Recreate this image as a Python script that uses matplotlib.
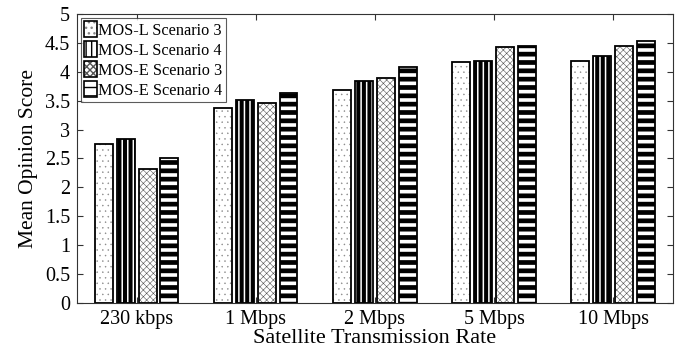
import numpy as np
import matplotlib
matplotlib.use("Agg")
import matplotlib.pyplot as plt

rates = ["230 kbps", "1 Mbps", "2 Mbps", "5 Mbps", "10 Mbps"]
series = ["MOS-L Scenario 3", "MOS-L Scenario 4", "MOS-E Scenario 3", "MOS-E Scenario 4"]
mos_l3 = [2.75, 3.37, 3.69, 4.17, 4.19]
mos_l4 = [2.84, 3.51, 3.84, 4.19, 4.27]
mos_e3 = [2.32, 3.46, 3.89, 4.43, 4.45]
mos_e4 = [2.51, 3.63, 4.09, 4.45, 4.53]

plt.rcParams["font.family"] = ["Liberation Serif", "DejaVu Serif"]

fig = plt.figure(figsize=(6.76, 3.58), dpi=100)
ax = fig.add_axes([0.114, 0.154, 0.881, 0.807])

x = np.arange(1, len(rates) + 1)
w = 0.15
offs = [-0.275, -0.092, 0.092, 0.275]
# hatch pattern, hatch colour, hatch line width per series
hatches = ["...", "|||", "xxxxx", "--"]
hcols = ["#888888", "black", "#555555", "black"]
hlw = [0.3, 2.9, 0.4, 3.4]


def set_hlw(p, lw):
    if hasattr(p, "set_hatch_linewidth"):
        p.set_hatch_linewidth(lw)


handles = []
for vals, off, h, hc, lw in zip([mos_l3, mos_l4, mos_e3, mos_e4], offs, hatches, hcols, hlw):
    # hatch layer (edge colour = hatch colour), then a black outline on top
    bars = ax.bar(x + off, vals, w, facecolor="white", edgecolor=hc,
                  linewidth=0, hatch=h)
    for b in bars:
        set_hlw(b, lw)
    ax.bar(x + off, vals, w, facecolor="none", edgecolor="black", linewidth=1.3)
    hp = matplotlib.patches.Patch(facecolor="white", edgecolor=hc, hatch=h, linewidth=0)
    set_hlw(hp, lw)
    ho = matplotlib.patches.Patch(facecolor="none", edgecolor="black", linewidth=1.2)
    handles.append((hp, ho))

ax.set_xlim(0.5, 5.5)
ax.set_ylim(0, 5)
ax.set_yticks(np.arange(0, 5.01, 0.5))
ax.set_yticklabels(["0", "0.5", "1", "1.5", "2", "2.5", "3", "3.5", "4", "4.5", "5"])
ax.set_xticks(x)
ax.set_xticklabels(rates)
ax.tick_params(direction="in", top=True, right=True, labelsize=14.5, length=4,
               color="#333333", pad=5)
for s in ax.spines.values():
    s.set_color("#333333")
    s.set_linewidth(0.8)
ax.set_xlabel("Satellite Transmission Rate", fontsize=16, labelpad=0)
ax.set_ylabel("Mean Opinion Score", fontsize=15.5, labelpad=5)

leg = ax.legend(handles, series, loc="upper left", fontsize=11.7, frameon=True,
                fancybox=False, edgecolor="#333333", handlelength=0.8,
                handleheight=1.15, handletextpad=0.05, borderpad=0.2,
                labelspacing=0.15, borderaxespad=0.25)
leg.get_frame().set_linewidth(0.8)

fig.savefig("out.png", dpi=100)
